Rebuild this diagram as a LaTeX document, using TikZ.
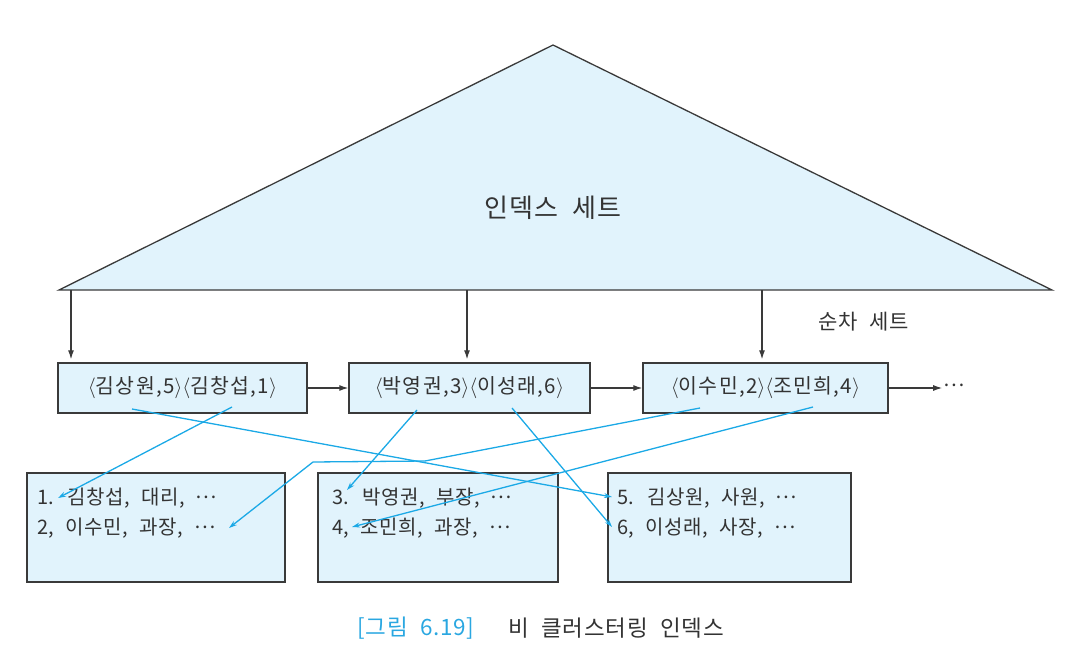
\documentclass[tikz,border=0pt]{standalone}
\usepackage{fontspec}
\setmainfont{Noto Sans CJK KR}
\newfontfamily\spaced{Noto Sans CJK KR}[LetterSpace=3,WordSpace=2.2]
\newfontfamily\boxspaced{Noto Sans CJK KR}[LetterSpace=6]
\usetikzlibrary{arrows.meta}
\definecolor{fillblue}{HTML}{E1F3FC}
\definecolor{edge}{HTML}{3A3A3A}
\definecolor{link}{HTML}{1BA9E6}
\definecolor{txt}{HTML}{333333}
\definecolor{capblue}{HTML}{2AA7E1}
\newcommand{\lab}{$\langle$}
\newcommand{\rab}{$\rangle$}
\newcommand{\mdots}{\raisebox{0.28em}{⋯}}
\tikzset{
  seqbox/.style={draw=edge, line width=1.3pt, fill=fillblue, minimum height=50pt, inner sep=0pt, text=txt, font=\boxspaced\fontsize{20.5}{24}\selectfont},
  databox/.style={draw=edge, line width=1.3pt, fill=fillblue, minimum height=109pt, inner sep=0pt},
  dataline/.style={anchor=base west, inner sep=0pt, text=txt, font=\spaced\fontsize{20}{24}\selectfont},
  blackarrow/.style={draw=edge, line width=1.2pt, -{Latex[length=9pt,width=6pt]}},
  link/.style={draw=link, line width=1.3pt, -{Stealth[length=8pt,width=5pt]}},
}
\begin{document}
\begin{tikzpicture}[x=1pt,y=-1pt]
\useasboundingbox (0,0) rectangle (1072,658);
% index set triangle
\coordinate (apex) at (553,45);
\coordinate (bl) at (59,290);
\coordinate (br) at (1052,290);
\filldraw[draw=edge, fill=fillblue, line width=1.3pt, line join=miter] (apex) -- (br) -- (bl) -- cycle;
\node[text=txt, font=\spaced\fontsize{26}{30}\selectfont] (title) at (553,208) {인덱스 세트};
\node[text=txt, font=\spaced\fontsize{21}{25}\selectfont] (seqlabel) at (864,322) {순차 세트};
% sequence set
\node[seqbox, minimum width=249pt] (sb1) at (182.5,388) {\lab 김상원,5\rab\lab 김창섭,1\rab};
\node[seqbox, minimum width=241pt] (sb2) at (469.5,388) {\lab 박영권,3\rab\lab 이성래,6\rab};
\node[seqbox, minimum width=245pt] (sb3) at (765.5,388) {\lab 이수민,2\rab\lab 조민희,4\rab};
\node[text=txt, font=\fontsize{20}{24}\selectfont, inner sep=1pt] (more) at (954,388) {\mdots};
\coordinate (d1) at (71,290);
\coordinate (d2) at (467,290);
\coordinate (d3) at (762,290);
\draw[blackarrow, shorten >=3pt] (d1) -- (d1 |- sb1.north);
\draw[blackarrow, shorten >=3pt] (d2) -- (d2 |- sb2.north);
\draw[blackarrow, shorten >=3pt] (d3) -- (d3 |- sb3.north);
\draw[blackarrow] (sb1.east) -- (sb2.west);
\draw[blackarrow] (sb2.east) -- (sb3.west);
\draw[blackarrow] (sb3.east) -- (sb3.east -| more.west);
% data blocks
\node[databox, minimum width=258pt] (da) at (156,527.5) {};
\node[databox, minimum width=240pt] (db) at (438,527.5) {};
\node[databox, minimum width=243pt] (dc) at (729.5,527.5) {};
\node[dataline] (r1) at (37,504) {1. 김창섭, 대리, \mdots};
\node[dataline] (r2) at (37,534) {2, 이수민, 과장, \mdots};
\node[dataline] (r3) at (332,504) {3. 박영권, 부장, \mdots};
\node[dataline] (r4) at (332,534) {4, 조민희, 과장, \mdots};
\node[dataline] (r5) at (617,504) {5. 김상원, 사원, \mdots};
\node[dataline] (r6) at (617,534) {6, 이성래, 사장, \mdots};
% pointers
\coordinate (s1) at (232,407); \coordinate (t1) at (58,498);
\coordinate (s2) at (132,409); \coordinate (t2) at (612,497);
\coordinate (s3) at (417,410); \coordinate (t3) at (347,490);
\coordinate (s4) at (512,408); \coordinate (t4) at (612,527);
\coordinate (s5) at (700,408); \coordinate (m5a) at (425,461); \coordinate (m5b) at (313,462); \coordinate (t5) at (229,528);
\coordinate (s6) at (813,407); \coordinate (t6) at (352,527);
\draw[link] (s1) -- (t1);
\draw[link] (s2) -- (t2);
\draw[link] (s3) -- (t3);
\draw[link] (s4) -- (t4);
\draw[link] (s5) -- (m5a) -- (m5b) -- (t5);
\draw[link] (s6) -- (t6);
% caption
\node[text=capblue, font=\spaced\fontsize{22.5}{26}\selectfont] (capnum) at (416,628) {[그림 6.19]};
\node[text=txt, font=\spaced\fontsize{22.5}{26}\selectfont] (captxt) at (616,628) {비 클러스터링 인덱스};
\end{tikzpicture}
\end{document}
